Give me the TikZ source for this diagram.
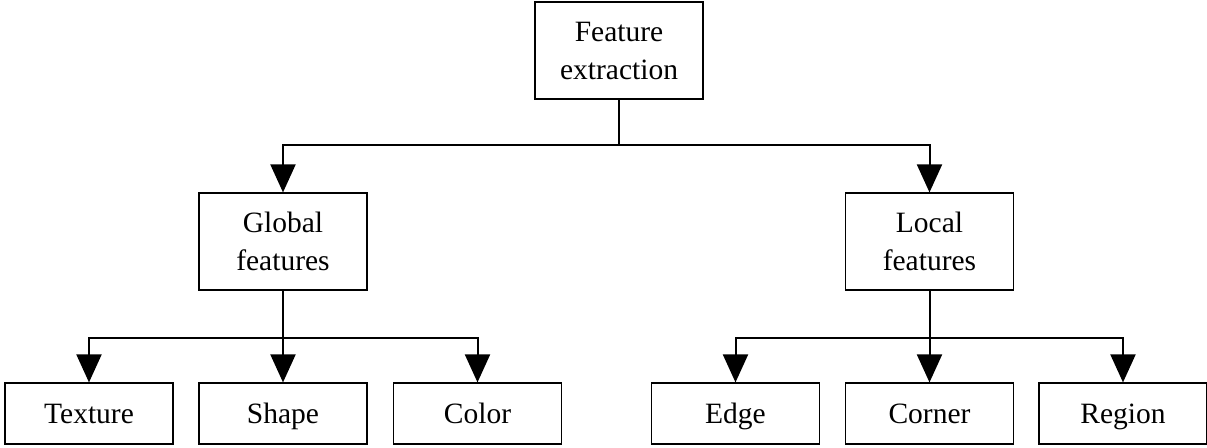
\documentclass[tikz,border=0pt]{standalone}
\usepackage{fontspec}
\setmainfont{Liberation Serif}
\usetikzlibrary{arrows.meta,positioning}

\begin{document}
\begin{tikzpicture}[
    x=0.5pt, y=-0.5pt,
    box/.style={draw, line width=0.6pt, minimum width=84pt, inner sep=0pt,
                font=\fontsize{14.75}{19}\selectfont, align=center},
    bigbox/.style={box, minimum height=48.5pt},
    leaf/.style={box, minimum height=30.5pt, text height=11pt, text depth=1.5pt},
    line/.style={line width=1pt},
    arr/.style={line, -{Triangle[length=14pt, width=12.5pt]}},
  ]
    \useasboundingbox (0,0) rectangle (1207,447);

    \node[bigbox] (fe)   at (619,50.5)    {Feature\\extraction};
    \node[bigbox] (glob) at (283,241.5)   {Global\\features};
    \node[bigbox] (loc)  at (929.5,241.5) {Local\\features};

    \node[leaf] (tex) at (89,413.5)     {Texture};
    \node[leaf] (shp) at (283,413.5)    {Shape};
    \node[leaf] (col) at (477.5,413.5)  {Color};
    \node[leaf] (edg) at (735.5,413.5)  {Edge};
    \node[leaf] (cor) at (929.5,413.5)  {Corner};
    \node[leaf] (reg) at (1123,413.5)   {Region};

    % top split
    \coordinate (split0) at (619,145);
    \draw[line] (fe.south) -- (split0);
    \draw[arr] (split0) -| (glob.north);
    \draw[arr] (split0) -| (loc.north);

    % global features
    \coordinate (split1) at (283,338);
    \draw[line] (glob.south) -- (split1);
    \draw[arr] (split1) -| (tex.north);
    \draw[arr] (split1) -- (shp.north);
    \draw[arr] (split1) -| (col.north);

    % local features
    \coordinate (split2) at (929.5,338);
    \draw[line] (loc.south) -- (split2);
    \draw[arr] (split2) -| (edg.north);
    \draw[arr] (split2) -- (cor.north);
    \draw[arr] (split2) -| (reg.north);
\end{tikzpicture}
\end{document}
